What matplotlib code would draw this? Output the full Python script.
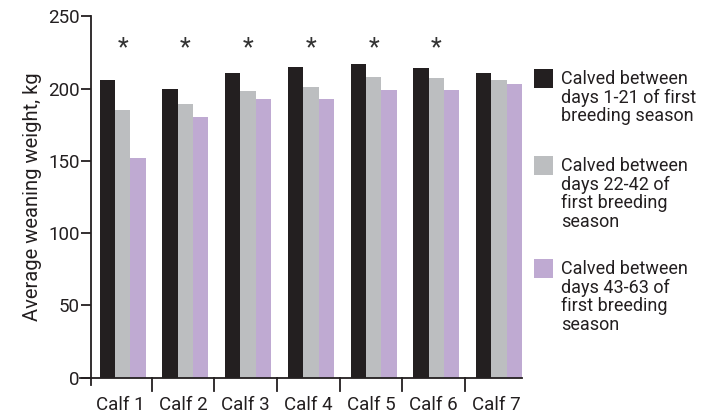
import matplotlib
matplotlib.use("Agg")
import matplotlib.pyplot as plt
import numpy as np
from matplotlib.patches import Rectangle

calves = ["Calf 1", "Calf 2", "Calf 3", "Calf 4", "Calf 5", "Calf 6", "Calf 7"]
days_1_21 = [206, 200, 211, 215, 217, 214, 211]
days_22_42 = [185, 189, 198, 201, 208, 207, 206]
days_43_63 = [152, 180, 193, 193, 199, 199, 203]
significant = [True, True, True, True, True, True, False]

series_labels = [
    "Calved between\ndays 1-21 of first\nbreeding season",
    "Calved between\ndays 22-42 of\nfirst breeding\nseason",
    "Calved between\ndays 43-63 of\nfirst breeding\nseason",
]
colors = ["#231f20", "#bcbec0", "#bfaad2"]
text_color = "#231f20"

plt.rcParams["font.family"] = ["Roboto", "DejaVu Sans"]

fig = plt.figure(figsize=(7.03, 4.17), dpi=100)
ax = fig.add_axes([0.129, 0.094, 0.614, 0.867])

x = np.arange(len(calves))
w = 0.245
for i, vals in enumerate([days_1_21, days_22_42, days_43_63]):
    ax.bar(x + (i - 1) * w + 0.04, vals, width=w, color=colors[i], linewidth=0)

for xi, sig in zip(x, significant):
    if sig:
        ax.text(xi + 0.04, 228, "*", ha="center", va="center", fontsize=18,
                color="#333333")

ax.set_ylim(0, 250)
ax.set_xlim(-0.47, 6.41)
ax.set_yticks([0, 50, 100, 150, 200, 250])
ax.set_xticks(x)
ax.set_xticklabels(calves)
ax.tick_params(axis="x", length=0, pad=13, labelsize=13.5, colors=text_color)
ax.tick_params(axis="y", length=7, width=1.3, pad=1, labelsize=13.5,
               colors=text_color)
# group separators on the x axis
for b in np.arange(0.5, len(calves) - 0.5, 1.0):
    ax.plot([b, b], [0, -9], color=text_color, lw=1.3, clip_on=False)
ax.plot([-0.47, -0.47], [0, -5], color=text_color, lw=1.3, clip_on=False)
ax.plot([-0.64, -0.47], [0, 0], color=text_color, lw=1.3, clip_on=False)

for s in ["top", "right"]:
    ax.spines[s].set_visible(False)
for s in ["left", "bottom"]:
    ax.spines[s].set_linewidth(1.3)
    ax.spines[s].set_color(text_color)

ax.set_ylabel("Average weaning weight, kg", fontsize=14.5, color=text_color,
              labelpad=4)

# legend drawn by hand so squares line up with the first text line
leg_tops = [69, 156, 259]
for top, lab, c in zip(leg_tops, series_labels, colors):
    fig.patches.append(Rectangle((534 / 703, 1 - (top + 19) / 417),
                                 19 / 703, 19 / 417, transform=fig.transFigure,
                                 facecolor=c, edgecolor="none"))
    fig.text(561 / 703, 1 - (top + 1) / 417, lab, ha="left", va="top",
             fontsize=13, color=text_color, linespacing=1.04)

fig.savefig("out.png", dpi=100)
